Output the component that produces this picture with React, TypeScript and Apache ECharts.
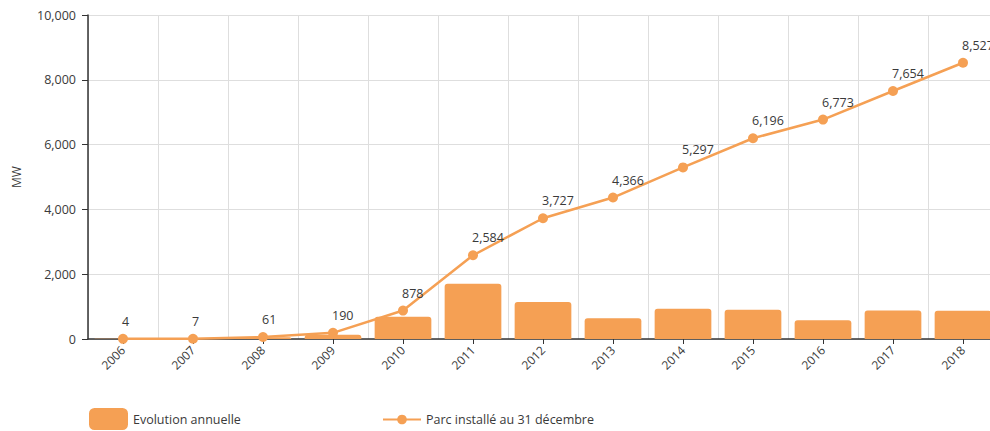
import React, { useEffect, useRef } from "react";
import * as echarts from "echarts";

const years = ["2006", "2007", "2008", "2009", "2010", "2011", "2012", "2013", "2014", "2015", "2016", "2017", "2018"];
const annualEvolution = [4, 3, 54, 129, 688, 1706, 1143, 639, 931, 899, 577, 881, 873];
const installedPark = [4, 7, 61, 190, 878, 2584, 3727, 4366, 5297, 6196, 6773, 7654, 8527];
const seriesNames = ["Evolution annuelle", "Parc installé au 31 décembre"];

const ORANGE = "#F5A054";
const TEXT = "#3a3a3a";
const FONT = "Open Sans";

export default function App() {
  const ref = useRef<HTMLDivElement>(null);
  useEffect(() => {
    document.body.style.margin = "0";
    document.body.style.overflow = "hidden";
    const chart = echarts.init(ref.current!, null, { renderer: "svg" });
    chart.setOption({
      animation: false,
      textStyle: { fontFamily: FONT },
      legend: [
        {
          data: [seriesNames[0]],
          left: 89,
          top: 408,
          padding: 0,
          itemWidth: 39,
          itemHeight: 22,
          textStyle: { color: TEXT, fontSize: 12.5, fontFamily: FONT },
        },
        {
          data: [seriesNames[1]],
          left: 382,
          top: 413,
          padding: 0,
          itemWidth: 38,
          itemHeight: 12,
          textStyle: { color: TEXT, fontSize: 12.5, fontFamily: FONT },
        },
      ],
      grid: { left: 88, width: 910, top: 15, bottom: 92 },
      xAxis: {
        type: "category",
        data: years,
        axisLine: { show: true, lineStyle: { color: "#333", width: 1.5 } },
        axisTick: { show: true, alignWithLabel: true, length: 5, lineStyle: { color: "#333" } },
        axisLabel: { rotate: 45, color: TEXT, fontSize: 12, fontFamily: FONT, margin: 9 },
        splitLine: { show: true, lineStyle: { color: "#dedede", width: 1 } },
      },
      yAxis: {
        type: "value",
        min: 0,
        max: 10000,
        interval: 2000,
        name: "MW",
        nameLocation: "middle",
        nameGap: 66,
        nameTextStyle: { color: TEXT, fontSize: 12, fontFamily: FONT },
        axisLine: { show: true, lineStyle: { color: "#333", width: 1.5 } },
        axisTick: { show: true, length: 6, lineStyle: { color: "#333" } },
        axisLabel: {
          color: TEXT,
          fontSize: 12.5,
          fontFamily: FONT,
          margin: 12,
          formatter: (v: number) => v.toLocaleString("en-US"),
        },
        splitLine: { show: true, lineStyle: { color: "#dedede", width: 1 } },
      },
      series: [
        {
          name: seriesNames[0],
          type: "bar",
          data: annualEvolution,
          barWidth: "81%",
          itemStyle: { color: ORANGE, borderRadius: [3, 3, 0, 0] },
        },
        {
          name: seriesNames[1],
          type: "line",
          data: installedPark,
          symbol: "circle",
          symbolSize: 10,
          lineStyle: { color: ORANGE, width: 2.5 },
          itemStyle: { color: ORANGE },
          label: {
            show: true,
            position: "top",
            align: "left",
            distance: 6,
            offset: [-1, 0],
            color: TEXT,
            fontSize: 12.5,
            fontFamily: FONT,
            formatter: (p: any) => Number(p.value).toLocaleString("en-US"),
          },
        },
      ],
    });
    return () => chart.dispose();
  }, []);
  return <div ref={ref} style={{ width: 998, height: 431 }} />;
}
